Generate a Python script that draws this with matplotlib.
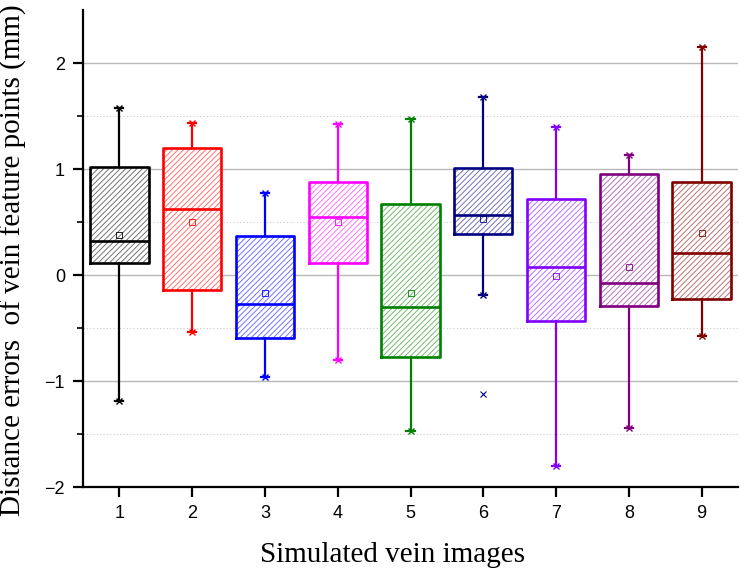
import matplotlib
matplotlib.use('Agg')
import matplotlib.pyplot as plt
from matplotlib.colors import to_rgb

# summary values (mm)
images = [1, 2, 3, 4, 5, 6, 7, 8, 9]
whisker_low = [-1.19, -0.54, -0.96, -0.80, -1.47, -0.19, -1.80, -1.44, -0.58]
q1 = [0.11, -0.14, -0.59, 0.11, -0.77, 0.39, -0.43, -0.29, -0.23]
medians = [0.32, 0.62, -0.27, 0.55, -0.30, 0.57, 0.08, -0.08, 0.21]
q3 = [1.02, 1.20, 0.37, 0.88, 0.67, 1.01, 0.72, 0.95, 0.88]
whisker_high = [1.58, 1.43, 0.77, 1.42, 1.47, 1.68, 1.40, 1.13, 2.15]
means = [0.38, 0.50, -0.17, 0.50, -0.17, 0.53, -0.01, 0.08, 0.40]
outliers = [[], [], [], [], [], [-1.12], [], [], []]

colors = ['#000000', '#FF0000', '#0000FF', '#FF00FF', '#008000',
          '#000080', '#8000FF', '#800080', '#800000']


def lighter(c, f=0.45):
    r, g, b = to_rgb(c)
    return (r + (1 - r) * f, g + (1 - g) * f, b + (1 - b) * f)


plt.rcParams['hatch.linewidth'] = 0.7

fig = plt.figure(figsize=(7.44, 5.70), dpi=100)
ax = fig.add_axes([83 / 744, 1 - 487 / 570, 655 / 744, 477 / 570])

for i, x in enumerate(images):
    c = colors[i]
    stats = [{
        'whislo': whisker_low[i], 'q1': q1[i], 'med': medians[i],
        'q3': q3[i], 'whishi': whisker_high[i], 'mean': means[i],
        'fliers': outliers[i],
    }]
    # hatched fill
    ax.bxp(stats, positions=[x], widths=0.8, patch_artist=True,
           showcaps=False, showfliers=False, manage_ticks=False,
           boxprops=dict(facecolor='white', edgecolor=lighter(c), linewidth=0,
                         hatch='//////'),
           medianprops=dict(linewidth=0), whiskerprops=dict(linewidth=0))
    # outlines, whiskers, mean and outliers
    ax.bxp(stats, positions=[x], widths=0.8, patch_artist=False,
           showmeans=True, capwidths=0.11, manage_ticks=False,
           boxprops=dict(color=c, linewidth=1.9),
           medianprops=dict(color=c, linewidth=1.9),
           whiskerprops=dict(color=c, linewidth=1.6),
           capprops=dict(color=c, linewidth=1.6),
           meanprops=dict(marker='s', markersize=5, markerfacecolor='none',
                          markeredgecolor=c, markeredgewidth=0.6),
           flierprops=dict(marker='x', markersize=5, markeredgecolor=c,
                           markeredgewidth=0.8))
    ax.plot([x, x], [whisker_low[i], whisker_high[i]], ls='none', marker='x',
            markersize=5, markeredgecolor=c, markeredgewidth=1.0)

ax.set_xlim(0.5, 9.5)
ax.set_ylim(-2, 2.5)
ax.set_xticks(images)
ax.set_xticklabels([str(n) for n in images])
ax.set_yticks([-2, -1, 0, 1, 2])
ax.set_yticks([-1.5, -0.5, 0.5, 1.5], minor=True)

ax.grid(axis='y', which='major', color='#b8b8b8', linewidth=1.0)
ax.grid(axis='y', which='minor', color='#c8c8c8', linewidth=0.8, linestyle=(0, (1, 2)))
ax.set_axisbelow(True)

ax.spines['top'].set_visible(False)
ax.spines['right'].set_visible(False)
ax.spines['left'].set_linewidth(1.6)
ax.spines['bottom'].set_linewidth(1.6)
ax.tick_params(axis='both', which='major', direction='out', length=7, width=1.6,
               labelsize=13)
ax.tick_params(axis='y', which='minor', direction='out', length=4, width=1.2)
ax.tick_params(axis='x', pad=6)
ax.tick_params(axis='y', pad=6)
for lab in ax.get_xticklabels() + ax.get_yticklabels():
    lab.set_fontfamily('Liberation Sans')

fig.text(392 / 744, 1 - 555 / 570, 'Simulated vein images',
         family='Liberation Serif', fontsize=21, ha='center', va='center')
fig.text(13 / 744, 1 - 260 / 570, 'Distance errors  of vein feature points (mm)',
         family='Liberation Serif', fontsize=21, rotation=90, ha='center', va='center')

plt.savefig('out.png', dpi=100)
